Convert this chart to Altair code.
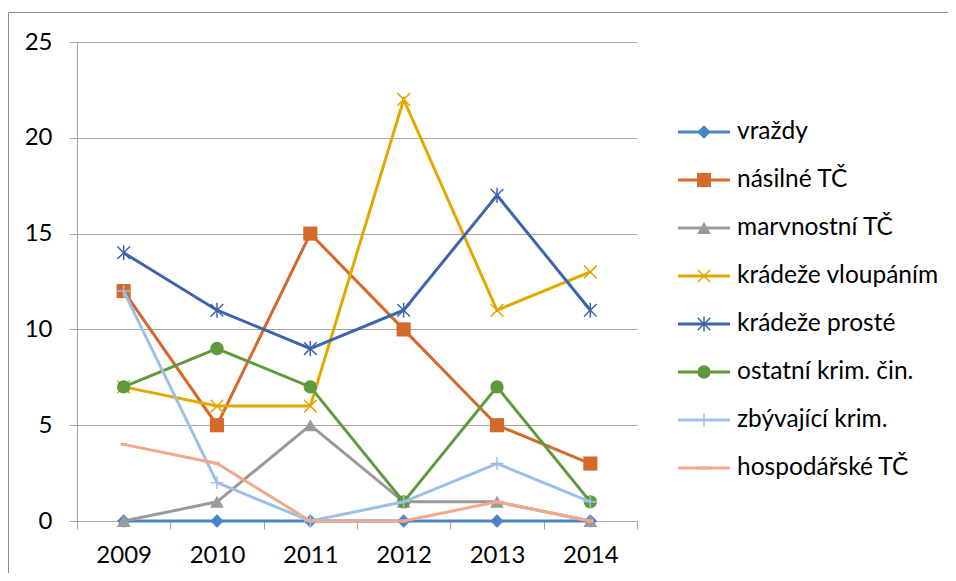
import altair as alt
import pandas as pd

years = ["2009", "2010", "2011", "2012", "2013", "2014"]
series = ["vraždy", "násilné TČ", "marvnostní TČ", "krádeže vloupáním",
          "krádeže prosté", "ostatní krim. čin.", "zbývající krim.", "hospodářské TČ"]
vrazdy = [0, 0, 0, 0, 0, 0]
nasilne = [12, 5, 15, 10, 5, 3]
marvnostni = [0, 1, 5, 1, 1, 0]
vloupanim = [7, 6, 6, 22, 11, 13]
proste = [14, 11, 9, 11, 17, 11]
ostatni = [7, 9, 7, 1, 7, 1]
zbyvajici = [12, 2, 0, 1, 3, 1]
hospodarske = [4, 3, 0, 0, 1, 0]

all_values = [vrazdy, nasilne, marvnostni, vloupanim, proste, ostatni, zbyvajici, hospodarske]

colors = ["#4A86C5", "#D5692A", "#9A9A9A", "#E2A800", "#3E64AE", "#5E9A3C", "#9DC1E6", "#F2A88A"]

# marker styles: (shape, filled, size, strokeWidth)
X_PATH = "M-1,-1L1,1M-1,1L1,-1"
AST_PATH = "M-1,-1L1,1M-1,1L1,-1M0,-1.2L0,1.2"
PLUS_PATH = "M0,-1L0,1M-1,0L1,0"
DASH_PATH = "M-0.6,0L0.6,0"
markers = [
    ("diamond", True, 180, 0),
    ("square", True, 200, 0),
    ("triangle-up", True, 190, 0),
    (X_PATH, False, 160, 1.5),
    (AST_PATH, False, 160, 1.5),
    ("circle", True, 180, 0),
    (PLUS_PATH, False, 160, 1.5),
    (DASH_PATH, False, 100, 3),
]

rows = []
for s, vals in zip(series, all_values):
    for y, v in zip(years, vals):
        rows.append({"year": y, "series": s, "value": v})
df = pd.DataFrame(rows)
legend_df = pd.DataFrame({"series": series, "idx": list(range(len(series)))})

FONT = "Lato"
FS = 24
GRID = "#A6A6A6"

color = alt.Color("series:N", scale=alt.Scale(domain=series, range=colors), legend=None)

x_enc = alt.X(
    "year:N",
    bandPosition=0.5,
    scale=alt.Scale(type="band", domain=years, paddingInner=0, paddingOuter=0),
    axis=alt.Axis(title=None, labelAngle=0, tickBand="extent", tickSize=8,
                  tickColor=GRID, domainColor=GRID, labelFont=FONT, labelFontSize=FS,
                  labelColor="#000000", labelPadding=14, grid=False),
)
y_enc = alt.Y(
    "value:Q",
    scale=alt.Scale(domain=[0, 25], nice=False),
    axis=alt.Axis(title=None, values=[0, 5, 10, 15, 20, 25], tickSize=8, tickColor=GRID,
                  domainColor=GRID, gridColor=GRID, gridWidth=1, labelFont=FONT,
                  labelFontSize=FS, labelColor="#000000", labelPadding=17),
)

base = alt.Chart(df)
main_layers = []
for s, (shape, filled, size, sw) in zip(series, markers):
    sub = base.transform_filter(alt.datum.series == s)
    main_layers.append(sub.mark_line(strokeWidth=3).encode(x=x_enc, y=y_enc, color=color))
    pt_kwargs = dict(shape=shape, filled=filled, size=size, opacity=1)
    if not filled:
        pt_kwargs["strokeWidth"] = sw
    main_layers.append(sub.mark_point(**pt_kwargs).encode(x=x_enc, y=y_enc, color=color))
main = alt.layer(*main_layers)

leg_y = alt.Y("idx:Q", scale=alt.Scale(domain=[0, len(series) - 1], range=[90, 426], nice=False, zero=False), axis=None)
lbase = alt.Chart(legend_df)
legend_layers = [
    lbase.mark_rule(strokeWidth=3).encode(x=alt.value(601), x2=alt.value(653), y=leg_y, color=color)
]
for s, (shape, filled, size, sw) in zip(series, markers):
    pt_kwargs = dict(shape=shape, filled=filled, size=size, opacity=1)
    if not filled:
        pt_kwargs["strokeWidth"] = sw
    legend_layers.append(
        lbase.transform_filter(alt.datum.series == s).mark_point(**pt_kwargs)
        .encode(x=alt.value(627), y=leg_y, color=color)
    )
legend_layers.append(
    lbase.mark_text(align="left", baseline="middle", font=FONT, fontSize=24.5, color="#000000")
    .encode(x=alt.value(660), y=leg_y, text="series:N")
)
legend = alt.layer(*legend_layers)

border = alt.Chart(pd.DataFrame({"a": [0]})).mark_rect(
    filled=False, stroke="#8C8C8C", strokeWidth=1
).encode(x=alt.value(-68.5), x2=alt.value(1000), y=alt.value(-29.5), y2=alt.value(700))

chart = alt.layer(border, main, legend).resolve_scale(y="independent").properties(
    width=560,
    height=479,
    autosize=alt.AutoSizeParams(type="none"),
    padding={"left": 69, "top": 34, "right": 311, "bottom": 52},
).configure_view(stroke="transparent")

chart.save("out.html", embed_options={"renderer": "svg", "actions": False})
